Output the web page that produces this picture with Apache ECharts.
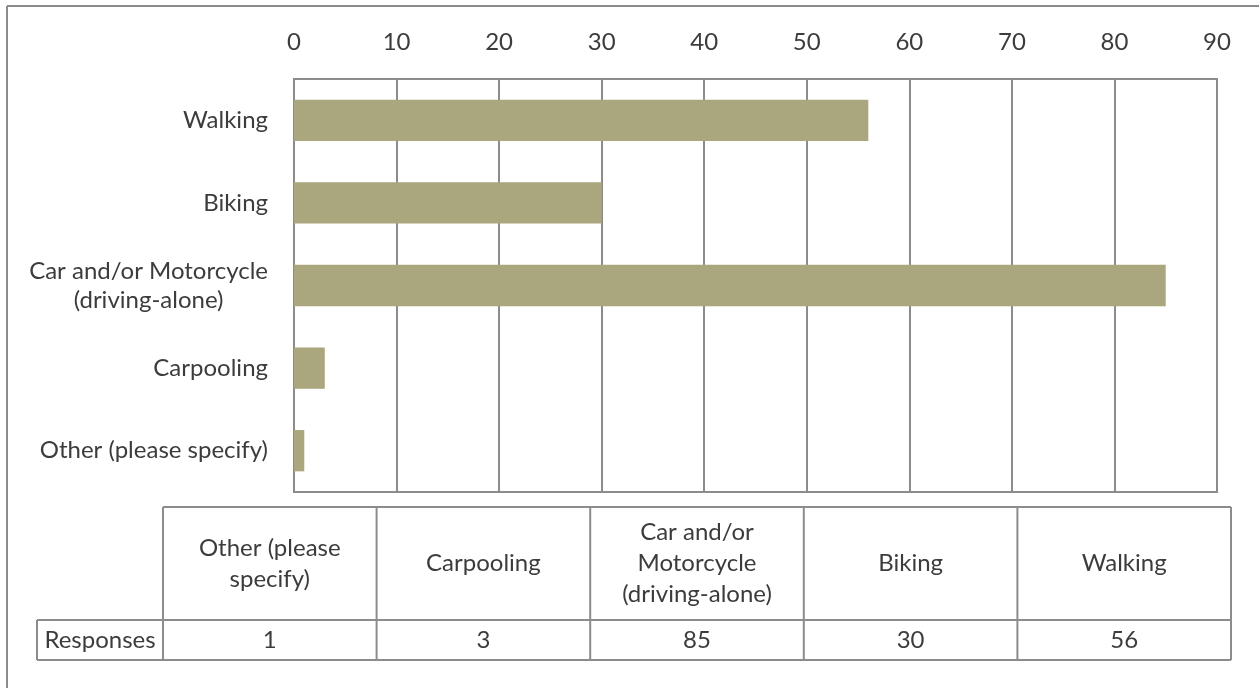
<!DOCTYPE html>
<html>
<head>
<meta charset="utf-8">
<script src="https://cdn.jsdelivr.net/npm/echarts@6/dist/echarts.min.js"></script>
<style>
  html, body { margin: 0; padding: 0; background: #ffffff; }
  #chart { width: 1259px; height: 688px; }
</style>
</head>
<body>
<div id="chart"></div>
<script>
// Survey responses by commute mode (category order as in the data table)
const categories = [
  'Other (please specify)',
  'Carpooling',
  'Car and/or Motorcycle (driving-alone)',
  'Biking',
  'Walking'
];
// Axis label text (line breaks) and table header text (line breaks)
const axisLabels = [
  ['Other (please specify)'],
  ['Carpooling'],
  ['Car and/or Motorcycle', '(driving-alone)'],
  ['Biking'],
  ['Walking']
];
const tableHeaders = [
  ['Other (please', 'specify)'],
  ['Carpooling'],
  ['Car and/or', 'Motorcycle', '(driving-alone)'],
  ['Biking'],
  ['Walking']
];
const seriesName = 'Responses';
const responses = [1, 3, 85, 30, 56];
const xTicks = { min: 0, max: 90, interval: 10 };

const FONT = 'Lato, "Open Sans", sans-serif';
const FS = 24;
const TEXT = '#3c3c3c';
const LINE = '#8c8c8c';
const BAR = '#aaa67d';

const chart = echarts.init(document.getElementById('chart'), null, { renderer: 'canvas' });

// Data table layout below the plot
const tbl = {
  labelLeft: 37, colLeft: 163, colWidth: 213.6,
  headTop: 507, rowTop: 620, rowBottom: 660
};
const graphics = [];
const line = (x1, y1, x2, y2) => graphics.push({
  type: 'line', silent: true,
  shape: { x1, y1, x2, y2 },
  style: { stroke: LINE, lineWidth: 2 }
});

// outer frame of the figure
line(7, 6, 1259, 6);
line(7, 6, 7, 688);

const n = categories.length;
const tableRight = tbl.colLeft + n * tbl.colWidth;
line(tbl.colLeft, tbl.headTop, tableRight, tbl.headTop);
line(tbl.labelLeft, tbl.rowTop, tableRight, tbl.rowTop);
line(tbl.labelLeft, tbl.rowBottom, tableRight, tbl.rowBottom);
line(tbl.labelLeft, tbl.rowTop, tbl.labelLeft, tbl.rowBottom);
for (let i = 0; i <= n; i++) {
  const x = tbl.colLeft + i * tbl.colWidth;
  line(x, tbl.headTop, x, tbl.rowBottom);
}
graphics.push({
  type: 'text', silent: true,
  x: (tbl.labelLeft + tbl.colLeft) / 2, y: (tbl.rowTop + tbl.rowBottom) / 2,
  style: { text: seriesName, font: FS + 'px ' + FONT, fill: TEXT, align: 'center', verticalAlign: 'middle' }
});
categories.forEach((c, i) => {
  const cx = tbl.colLeft + (i + 0.5) * tbl.colWidth;
  graphics.push({
    type: 'text', silent: true,
    x: cx, y: (tbl.headTop + tbl.rowTop) / 2,
    style: {
      text: tableHeaders[i].join('\n'), font: FS + 'px ' + FONT, fill: TEXT,
      align: 'center', verticalAlign: 'middle', lineHeight: 31
    }
  });
  graphics.push({
    type: 'text', silent: true,
    x: cx, y: (tbl.rowTop + tbl.rowBottom) / 2,
    style: { text: String(responses[i]), font: FS + 'px ' + FONT, fill: TEXT, align: 'center', verticalAlign: 'middle' }
  });
});

chart.setOption({
  animation: false,
  backgroundColor: '#ffffff',
  grid: {
    left: 294, right: 42, top: 79, bottom: 196,
    show: true, borderColor: LINE, borderWidth: 2,
    containLabel: false, outerBoundsMode: 'none'
  },
  xAxis: {
    type: 'value', position: 'top',
    min: xTicks.min, max: xTicks.max, interval: xTicks.interval,
    axisLine: { show: false }, axisTick: { show: false },
    axisLabel: { fontFamily: FONT, fontSize: FS, color: TEXT, margin: 25 },
    splitLine: { show: true, lineStyle: { color: LINE, width: 2 } }
  },
  yAxis: {
    type: 'category', data: categories,
    axisLine: { show: true, lineStyle: { color: LINE, width: 2 } },
    axisTick: { show: false },
    axisLabel: {
      margin: 26,
      formatter: (v, idx) => axisLabels[idx].map(s => '{c|' + s + '}').join('\n'),
      rich: { c: { fontFamily: FONT, fontSize: FS, color: TEXT, align: 'center', lineHeight: 29 } }
    }
  },
  series: [{
    name: seriesName, type: 'bar', data: responses,
    barWidth: '50%',
    itemStyle: { color: BAR }
  }],
  graphic: graphics
});
</script>
</body>
</html>
